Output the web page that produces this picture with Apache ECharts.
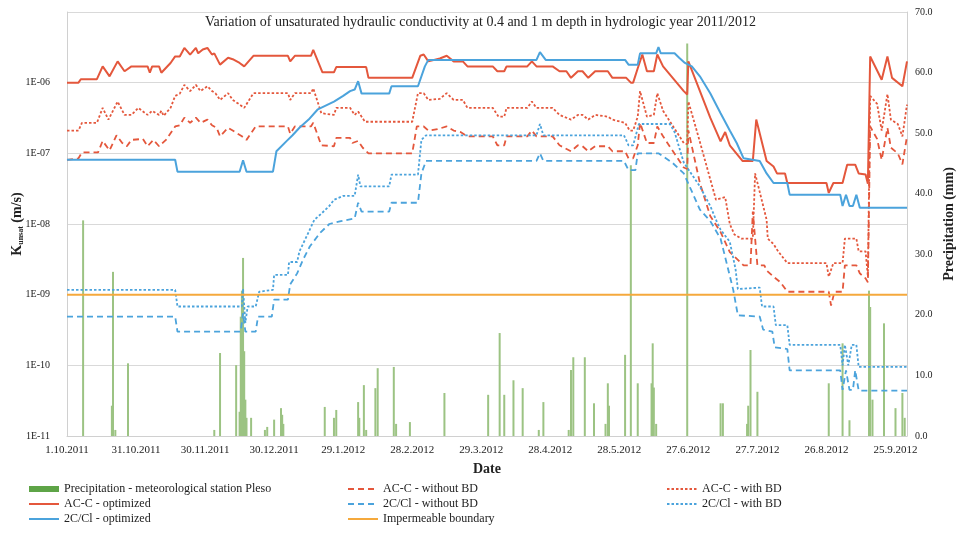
<!DOCTYPE html>
<html>
<head>
<meta charset="utf-8">
<script src="https://cdn.jsdelivr.net/npm/echarts@6/dist/echarts.min.js"></script>
<style>html,body{margin:0;padding:0;background:#fff}#c{width:961px;height:543px}</style>
</head>
<body>
<div id="c"></div>
<script>
// x values are days since 1.10.2011
const xTickDays = [0, 30, 60, 90, 120, 150, 180, 210, 240, 270, 300, 330, 360];
const yTickLabels = ['1E-11', '1E-10', '1E-09', '1E-08', '1E-07', '1E-06'];
const rightTickLabels = ['0.0', '10.0', '20.0', '30.0', '40.0', '50.0', '60.0', '70.0'];

const seriesNames = [
  'Precipitation - meteorological station Pleso',
  'AC-C - without BD',
  'AC-C - with BD',
  'AC-C - optimized',
  '2C/Cl - without BD',
  '2C/Cl - with BD',
  '2C/Cl - optimized',
  'Impermeable boundary'
];

const precipDay = [7, 19.5, 20, 21, 26.5, 64, 66.5, 73.5, 75, 75.5, 76, 76.5, 77, 77.5, 78, 80, 86, 87, 90, 93, 93.5, 94,
  112, 116, 117, 126.5, 127, 129, 130, 134, 135, 142, 143, 149, 164, 183, 188, 190, 194, 198, 205, 207, 218, 219, 220,
  225, 229, 234, 235, 235.5, 242.5, 245, 248, 254, 254.5, 255, 256, 269.5, 284, 285, 295.5, 296, 297, 300, 331, 337,
  340, 348.5, 349, 350, 355, 360, 363, 364];
const precipMm = [35.6, 5, 27.1, 1, 12, 1, 13.7, 11.7, 4, 19.7, 24, 29.4, 14, 6, 3, 3, 1, 1.5, 2.7, 4.6, 3.5, 2,
  4.8, 3, 4.3, 5.6, 3, 8.4, 1, 7.9, 11.2, 11.4, 2, 2.3, 7.1, 6.8, 17, 6.8, 9.2, 7.9, 1, 5.6, 1, 10.9, 13,
  13, 5.4, 2, 8.7, 5, 13.4, 44.7, 8.7, 8.7, 15.3, 8, 2, 64.8, 5.4, 5.4, 2, 5, 14.2, 7.3, 8.7, 15.3,
  2.6, 24, 21.3, 6, 18.6, 4.6, 7.1, 3];

const acWithoutBD = [[0,8.1e-8],[5,8.5e-8],[6.5,1.03e-7],[13.5,1.03e-7],[15.5,1.5e-7],[18.5,1.1e-7],[21.5,1.8e-7],[24,1.4e-7],[26,1.26e-7],[28,1.55e-7],[33,1.6e-7],[35,1.26e-7],[37.5,1.55e-7],[40,1.26e-7],[43,1.55e-7],[47,2.4e-7],[49,2.5e-7],[51,3.2e-7],[53.5,2.7e-7],[56,3.2e-7],[58,2.7e-7],[61,3.0e-7],[63,2.5e-7],[65,2.3e-7],[66.5,1.74e-7],[70,2.3e-7],[72,2.1e-7],[76,1.74e-7],[78,1.55e-7],[82,2.4e-7],[96,2.4e-7],[97,1.9e-7],[99,2.4e-7],[106,2.4e-7],[107,2.7e-7],[110.5,1.3e-7],[116,1.26e-7],[117,1.65e-7],[123,1.65e-7],[124,1.4e-7],[126.5,1.5e-7],[128.5,1.2e-7],[131,1.0e-7],[150,1.0e-7],[152,2.4e-7],[155,2.4e-7],[157,2.1e-7],[161,2.2e-7],[165,2.4e-7],[168,2.1e-7],[171,2.0e-7],[174,1.74e-7],[185,1.74e-7],[187,1.3e-7],[190,1.3e-7],[191,1.74e-7],[200,1.74e-7],[202,2.1e-7],[204,1.74e-7],[211,1.74e-7],[214,1.3e-7],[219,1.07e-7],[222,1.3e-7],[224,1.26e-7],[226.5,1.07e-7],[229.5,1.26e-7],[235,1.26e-7],[237,1.07e-7],[242.5,1.07e-7],[244,8.5e-8],[246,8.5e-8],[248,1.3e-7],[249,2.7e-7],[252,1.4e-7],[255,1.4e-7],[256.5,2.4e-7],[259,1.74e-7],[268,6.3e-8],[269.5,6.0e-8],[270,2.1e-7],[275,3.8e-8],[279.5,1.3e-8],[284,7.7e-9],[288,4.0e-9],[294,2.6e-9],[297,2.6e-9],[298,1.5e-8],[300,2.6e-9],[303,2.6e-9],[304,2.2e-9],[307,1.8e-9],[310,1.5e-9],[313,1.1e-9],[331,1.1e-9],[332,7.0e-10],[333.5,1.1e-9],[337,1.1e-9],[338,2.6e-9],[343,2.6e-9],[344.5,2.0e-9],[347,1.7e-9],[348,1.5e-9],[349,2.4e-7],[352,1.6e-7],[354,8.1e-8],[356.5,2.3e-7],[358,1.2e-7],[361,1.0e-7],[363,7.0e-8],[365,1.74e-7]];

const acWithBD = [[0,2.1e-7],[5,2.1e-7],[6.5,2.7e-7],[13,2.7e-7],[15.5,4.4e-7],[18,3.0e-7],[22,5.4e-7],[25,3.5e-7],[28,3.5e-7],[31,4.4e-7],[35,3.5e-7],[37,4.0e-7],[40,3.5e-7],[41,4.0e-7],[42,3.4e-7],[45,4.4e-7],[47,6.5e-7],[49,7.0e-7],[51,9.3e-7],[53.5,7.6e-7],[56,9.3e-7],[58,7.6e-7],[61,8.9e-7],[63,7.6e-7],[64.5,7.1e-7],[66.5,5.7e-7],[70,7.1e-7],[72,5.7e-7],[75,4.9e-7],[77,4.4e-7],[81,7.1e-7],[96,7.1e-7],[97,5.7e-7],[99,7.1e-7],[106,7.1e-7],[107,8.3e-7],[110.5,3.7e-7],[116,3.5e-7],[117,4.4e-7],[123,4.4e-7],[125,3.5e-7],[126.5,3.9e-7],[129.5,2.8e-7],[150,2.8e-7],[152.5,7.1e-7],[155,7.1e-7],[157,5.7e-7],[162,5.9e-7],[165,7.1e-7],[168,5.7e-7],[172,5.7e-7],[174,4.4e-7],[185,4.4e-7],[187.5,3.3e-7],[190,3.3e-7],[191,4.4e-7],[200,4.4e-7],[202,5.4e-7],[204,4.4e-7],[211,4.4e-7],[214,3.5e-7],[219,3.0e-7],[222,3.5e-7],[224,3.5e-7],[226.5,3.0e-7],[229.5,3.5e-7],[235,3.3e-7],[237,3.0e-7],[242.5,2.7e-7],[244.5,2.1e-7],[246,2.1e-7],[248,3.3e-7],[249,7.6e-7],[252,3.3e-7],[255,3.5e-7],[256.5,7.1e-7],[259,4.0e-7],[268,1.4e-7],[269.5,1.35e-7],[270,5.4e-7],[274,1.9e-7],[282,2.2e-8],[286,2.4e-8],[288,1.0e-8],[290,7.1e-9],[293,6.2e-9],[298,6.2e-9],[299,5.2e-8],[304,1.15e-8],[304.5,6.2e-9],[307,5.2e-9],[309,4.1e-9],[313,2.8e-9],[330,2.8e-9],[331,1.8e-9],[333,2.8e-9],[337,2.8e-9],[338,6.2e-9],[343,6.2e-9],[344,4.1e-9],[347,4.1e-9],[348,1.8e-9],[349,6.5e-7],[352,5.0e-7],[354,2.1e-7],[356.5,6.9e-7],[358,3.0e-7],[361,2.6e-7],[363,1.74e-7],[365,4.9e-7]];

const acOptimized = [[0,1.0e-6],[5,1.0e-6],[6,1.12e-6],[13,1.12e-6],[15.5,1.7e-6],[18.5,1.23e-6],[22,2.0e-6],[25,1.45e-6],[28,1.7e-6],[35,1.7e-6],[36,1.38e-6],[37,1.7e-6],[40,1.7e-6],[41,1.38e-6],[45,1.9e-6],[47,2.35e-6],[49,2.35e-6],[51,3.1e-6],[53.5,2.5e-6],[56,3.1e-6],[57,2.6e-6],[59,2.95e-6],[61,3.1e-6],[63,2.5e-6],[64,2.6e-6],[66.5,1.8e-6],[70,2.25e-6],[72,2.15e-6],[75,1.9e-6],[77,1.7e-6],[81,2.4e-6],[96,2.4e-6],[97,2.0e-6],[99,2.4e-6],[106,2.4e-6],[107,2.9e-6],[111,1.4e-6],[116,1.4e-6],[117,1.66e-6],[130,1.66e-6],[131,1.17e-6],[150,1.17e-6],[153.5,2.4e-6],[155,2.5e-6],[157,2.0e-6],[162,2.2e-6],[165,2.4e-6],[168,2.0e-6],[172,2.0e-6],[174,1.7e-6],[185,1.7e-6],[187,1.45e-6],[190,1.45e-6],[191,1.7e-6],[200,1.7e-6],[202,2.0e-6],[204,1.7e-6],[211,1.7e-6],[214,1.45e-6],[217,1.45e-6],[219,1.17e-6],[222,1.45e-6],[224,1.45e-6],[226.5,1.17e-6],[229.5,1.45e-6],[235,1.45e-6],[237,1.17e-6],[243,1.17e-6],[245,1.0e-6],[246,1.0e-6],[248,1.6e-6],[250,2.5e-6],[252,1.45e-6],[255,1.45e-6],[256.5,2.5e-6],[259,1.7e-6],[268,7.6e-7],[269.5,6.8e-7],[270,2.0e-6],[279.5,3.2e-7],[284,1.48e-7],[286,2.0e-7],[288,1.3e-7],[293.5,7.8e-8],[298,7.8e-8],[299.5,3.0e-7],[304,7.8e-8],[307,6.5e-8],[308.5,5.2e-8],[312,5.2e-8],[313,3.8e-8],[330,3.8e-8],[331,2.75e-8],[333,3.8e-8],[337,3.8e-8],[339,6.9e-8],[342.5,6.9e-8],[344,5.2e-8],[347,5.0e-8],[348,3.7e-8],[349,2.35e-6],[354,1.1e-6],[356.5,2.35e-6],[358.5,1.17e-6],[363,8.9e-7],[365,2.0e-6]];

const clWithoutBD = [[0,4.9e-10],[47,4.9e-10],[48,3.0e-10],[75.5,3.0e-10],[76.5,5.5e-10],[77.5,3.0e-10],[82,3.0e-10],[83,4.9e-10],[89,4.9e-10],[90,8.5e-10],[96,8.5e-10],[97,1.4e-9],[100,2.0e-9],[102.5,3.1e-9],[105.5,4.8e-9],[110,7.5e-9],[114,1.0e-8],[119,1.1e-8],[125,1.2e-8],[126.5,2.0e-8],[128,1.5e-8],[140,1.5e-8],[141,2.0e-8],[152.5,2.0e-8],[154,5.2e-8],[156,7.8e-8],[204,7.8e-8],[205.5,1.0e-7],[207,7.8e-8],[242,7.8e-8],[244,5.8e-8],[247,5.8e-8],[248,1.0e-7],[257,1.0e-7],[263,7.4e-8],[268,5.2e-8],[275,1.6e-8],[279.5,1.1e-8],[284,6.2e-9],[289.5,1.17e-9],[291.5,5.1e-10],[301,4.9e-10],[302.5,3.2e-10],[306.5,3.0e-10],[307.5,1.8e-10],[313,1.7e-10],[314,8.5e-11],[336,8.5e-11],[337,4.5e-11],[338.5,8.5e-11],[340,4.5e-11],[341.5,4.5e-11],[342.5,8.5e-11],[344,4.4e-11],[365,4.4e-11]];

const clWithBD = [[0,1.17e-9],[47,1.17e-9],[48,6.8e-10],[76,6.8e-10],[76.5,1.2e-9],[77.5,4.0e-10],[78.5,6.8e-10],[82,6.8e-10],[83.5,1.1e-9],[89.5,1.17e-9],[90,1.9e-9],[96,1.9e-9],[96.5,2.9e-9],[100,2.9e-9],[101,4.1e-9],[104.5,7.1e-9],[107.5,1.15e-8],[110.5,1.4e-8],[114,1.8e-8],[116,2.2e-8],[120,2.5e-8],[125,2.5e-8],[126.5,5.0e-8],[127.5,3.4e-8],[140,3.4e-8],[141,5.0e-8],[152.5,5.0e-8],[154,1.55e-7],[156,1.8e-7],[204,1.8e-7],[205.5,2.6e-7],[207,1.8e-7],[242,1.8e-7],[244,1.3e-7],[246,1.3e-7],[248.5,2.6e-7],[262,2.6e-7],[264,2.0e-7],[268,7.4e-8],[275,3.4e-8],[279.5,1.8e-8],[282.5,1.05e-8],[284,8.3e-9],[288,5.6e-9],[290.5,2.3e-9],[291.5,1.2e-9],[301,1.26e-9],[302,6.8e-10],[307,6.8e-10],[308,3.7e-10],[313,3.7e-10],[314,1.95e-10],[336,1.95e-10],[337,1.0e-10],[338,1.95e-10],[339.5,1.0e-10],[341,1.95e-10],[343,1.95e-10],[344,9.5e-11],[365,9.5e-11]];

const clOptimized = [[0,8.1e-8],[47,8.1e-8],[48,5.5e-8],[75,5.5e-8],[76.5,8.0e-8],[78,5.5e-8],[89.5,5.5e-8],[91,1.07e-7],[95.5,1.5e-7],[98,1.8e-7],[101,2.3e-7],[105,3.0e-7],[109,4.2e-7],[116,5.4e-7],[120,6.5e-7],[123,7.6e-7],[125,8.0e-7],[126.5,1.05e-6],[128,7.0e-7],[140,7.0e-7],[141,8.9e-7],[152.5,8.9e-7],[155.5,1.7e-6],[157,2.1e-6],[204,2.1e-6],[205.5,2.7e-6],[208,2.1e-6],[242.5,2.1e-6],[244,1.8e-6],[248,1.8e-6],[249,2.6e-6],[256,2.6e-6],[257,3.2e-6],[258,2.6e-6],[264,2.6e-6],[266,2.25e-6],[268.5,1.9e-6],[271.5,1.7e-6],[275,1.23e-6],[279.5,7.1e-7],[284,3.7e-7],[288,2.1e-7],[291,1.4e-7],[294,8.5e-8],[301,7.8e-8],[304,5.2e-8],[307,3.8e-8],[313,3.8e-8],[314,2.6e-8],[336,2.6e-8],[337,1.8e-8],[338.5,2.6e-8],[340,1.8e-8],[341.5,1.8e-8],[343,2.6e-8],[344.5,1.7e-8],[365,1.7e-8]];

const impermeable = [[0,1e-9],[365,1e-9]];

const RED = '#e4573c', BLUE = '#4ba3dc', ORANGE = '#f5a93c', GREEN = '#9cc383', GREEN_DARK = '#5ea447';
const SERIF = '"Liberation Serif", "Times New Roman", serif';

function dayLabel(d) {
  const t = new Date(2011, 9, 1 + d);
  return t.getDate() + '.' + (t.getMonth() + 1) + '.' + t.getFullYear();
}

const chart = echarts.init(document.getElementById('c'), null, {renderer: 'canvas'});

function line(name, data, color, type, width) {
  return {
    name: name, type: 'line', data: data, yAxisIndex: 0, symbol: 'none',
    lineStyle: {color: color, width: width, type: type}, itemStyle: {color: color},
    animation: false, z: 3
  };
}

const legendText = {fontFamily: SERIF, fontSize: 12, color: '#222'};
function legend(left, names) {
  return {
    left: left, top: 483, orient: 'vertical', itemGap: 3, itemWidth: 30, itemHeight: 6,
    textStyle: legendText, padding: 0, selectedMode: false,
    data: names.map(n => n === seriesNames[0]
      ? {name: n, icon: 'rect', itemStyle: {color: GREEN_DARK, opacity: 1}}
      : {name: n, itemStyle: {opacity: 0}})
  };
}

chart.setOption({
  animation: false,
  backgroundColor: '#fff',
  title: {
    text: 'Variation of unsaturated hydraulic conductivity at 0.4 and 1 m depth in hydrologic year 2011/2012',
    left: 'center', top: 15, padding: 0,
    textStyle: {fontFamily: SERIF, fontSize: 14, fontWeight: 'normal', color: '#222'}
  },
  grid: {left: 67, right: 54, top: 12, bottom: 107, outerBoundsMode: 'none', containLabel: false},
  legend: [
    legend(28, [seriesNames[0], seriesNames[3], seriesNames[6]]),
    legend(347, [seriesNames[1], seriesNames[4], seriesNames[7]]),
    legend(666, [seriesNames[2], seriesNames[5]])
  ],
  xAxis: {
    type: 'value', min: 0, max: 365, interval: 30,
    name: 'Date', nameLocation: 'middle', nameGap: 26, nameMoveOverlap: false,
    nameTextStyle: {fontFamily: SERIF, fontSize: 14, fontWeight: 'bold', color: '#222'},
    axisLine: {lineStyle: {color: '#d0d0d0'}},
    axisTick: {show: false},
    splitLine: {show: false},
    axisLabel: {
      margin: 9, fontFamily: SERIF, fontSize: 11, color: '#222',
      formatter: v => (xTickDays.indexOf(v) >= 0 ? dayLabel(v) : '')
    }
  },
  yAxis: [
    {
      type: 'log', logBase: 10, min: 1e-11, max: 1e-5, splitNumber: 6,
      name: '{k|K}{s|unsat}{k| (m/s)}', nameLocation: 'middle', nameGap: 42, nameRotate: 90, nameMoveOverlap: false,
      nameTextStyle: {
        fontFamily: SERIF, fontWeight: 'bold', color: '#222',
        rich: {
          k: {fontFamily: SERIF, fontSize: 14, fontWeight: 'bold', color: '#222', lineHeight: 16},
          s: {fontFamily: SERIF, fontSize: 8, fontWeight: 'bold', color: '#222', lineHeight: 16, verticalAlign: 'bottom', padding: [6, 0, 0, 0]}
        }
      },
      axisLine: {show: true, lineStyle: {color: '#d0d0d0'}},
      axisTick: {show: false},
      splitLine: {show: true, lineStyle: {color: '#d9d9d9', width: 1}},
      axisLabel: {
        margin: 17, fontFamily: SERIF, fontSize: 10, color: '#222', showMaxLabel: false,
        formatter: v => {
          const e = Math.round(Math.log10(v));
          const lbl = '1E-' + String(-e).padStart(2, '0');
          return yTickLabels.indexOf(lbl) >= 0 ? lbl : '';
        }
      }
    },
    {
      type: 'value', min: 0, max: 70, interval: 10, position: 'right',
      name: 'Precipitation (mm)', nameLocation: 'middle', nameGap: 35, nameRotate: 90, nameMoveOverlap: false,
      nameTextStyle: {fontFamily: SERIF, fontSize: 14, fontWeight: 'bold', color: '#222'},
      axisLine: {show: true, lineStyle: {color: '#d0d0d0'}},
      axisTick: {show: false},
      splitLine: {show: false},
      axisLabel: {
        margin: 8, fontFamily: SERIF, fontSize: 10, color: '#222',
        formatter: v => rightTickLabels[Math.round(v / 10)]
      }
    }
  ],
  series: [
    {
      name: seriesNames[0], type: 'bar', yAxisIndex: 1, barWidth: 2,
      data: precipDay.map((d, i) => [d, precipMm[i]]),
      itemStyle: {color: GREEN}, z: 1, animation: false
    },
    line(seriesNames[1], acWithoutBD, RED, [6, 4], 1.8),
    line(seriesNames[2], acWithBD, RED, [2.5, 2], 1.8),
    line(seriesNames[3], acOptimized, RED, 'solid', 2),
    line(seriesNames[4], clWithoutBD, BLUE, [6, 4], 1.8),
    line(seriesNames[5], clWithBD, BLUE, [2.5, 2], 1.8),
    line(seriesNames[6], clOptimized, BLUE, 'solid', 2),
    line(seriesNames[7], impermeable, ORANGE, 'solid', 2)
  ]
});
</script>
</body>
</html>
